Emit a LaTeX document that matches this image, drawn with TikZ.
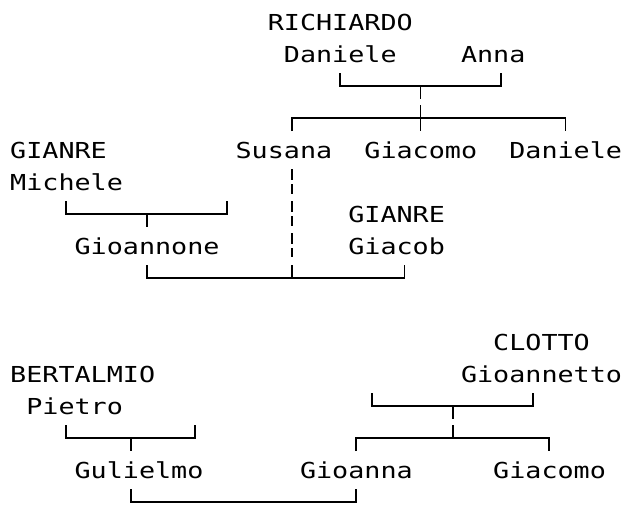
\documentclass[tikz,border=0pt]{standalone}
\usepackage{fontspec}
\newfontfamily\treefont[FakeStretch=1.216]{DejaVu Sans Mono}
\begin{document}
\begin{tikzpicture}[x=1pt,y=-1pt,
  person/.style={anchor=base west,inner sep=0pt,font=\treefont\fontsize{22}{22}\selectfont},
  link/.style={line width=1.8pt,line cap=butt},
  dlink/.style={link,dash pattern=on 11pt off 4pt on 10pt off 7pt}]
\useasboundingbox (0,0) rectangle (623,504);
% ---- people
\node[person] (richiardo) at (267.6,30) {RICHIARDO};
\node[person] (daniele1) at (283.7,62) {Daniele};
\node[person] (anna) at (460.8,62) {Anna};
\node[person] (susana) at (235.4,158) {Susana};
\node[person] (giacomo1) at (364.2,158) {Giacomo};
\node[person] (daniele2) at (509.1,158) {Daniele};
\node[person] (gianre1) at (10,158) {GIANRE};
\node[person] (michele) at (10,190) {Michele};
\node[person] (gianre2) at (348.1,222) {GIANRE};
\node[person] (gioannone) at (74.4,254) {Gioannone};
\node[person] (giacob) at (348.1,254) {Giacob};
\node[person] (clotto) at (493,350) {CLOTTO};
\node[person] (bertalmio) at (10,382) {BERTALMIO};
\node[person] (gioannetto) at (460.8,382) {Gioannetto};
\node[person] (pietro) at (26.1,414) {Pietro};
\node[person] (gulielmo) at (74.4,478) {Gulielmo};
\node[person] (gioanna) at (299.8,478) {Gioanna};
\node[person] (giacomo2) at (493,478) {Giacomo};
% ---- Richiardo couple
\coordinate (rA1) at (340.05,73);  \coordinate (rA2) at (340.05,86);
\coordinate (rB2) at (501.05,86);  \coordinate (rB1) at (501.05,73);
\coordinate (rT1) at (420.55,86);  \coordinate (rT2) at (420.55,99);
\coordinate (rT3) at (420.55,105); \coordinate (rT4) at (420.55,131);
\coordinate (rL1) at (291.75,118); \coordinate (rL2) at (291.75,131);
\coordinate (rR1) at (565.45,118); \coordinate (rR2) at (565.45,131);
\draw[link] (rA1) -- (rA2) -- (rB2) -- (rB1);
\draw[link] (rT1) -- (rT2);
\draw[link] (rT3) -- (rT4);
\draw[link] (rL2) -- (rL1) -- (rR1) -- (rR2);
% ---- Susana down
\coordinate (sD1) at (291.75,169); \coordinate (sD2) at (291.75,257);
\coordinate (sD3) at (291.75,265); \coordinate (sD4) at (291.75,278);
\draw[dlink] (sD1) -- (sD2);
\draw[link] (sD3) -- (sD4);
% ---- Michele bracket
\coordinate (mA1) at (66.35,201);  \coordinate (mA2) at (66.35,214);
\coordinate (mB2) at (227.35,214); \coordinate (mB1) at (227.35,201);
\coordinate (mT1) at (146.85,214); \coordinate (mT2) at (146.85,227);
\draw[link] (mA1) -- (mA2) -- (mB2) -- (mB1);
\draw[link] (mT1) -- (mT2);
% ---- Gioannone + Giacob bottom
\coordinate (gA1) at (146.85,265); \coordinate (gA2) at (146.85,278);
\coordinate (gB2) at (404.45,278); \coordinate (gB1) at (404.45,265);
\draw[link] (gA1) -- (gA2) -- (gB2) -- (gB1);
% ---- Gioannetto bracket
\coordinate (cA1) at (372.25,393); \coordinate (cA2) at (372.25,406);
\coordinate (cB2) at (533.25,406); \coordinate (cB1) at (533.25,393);
\coordinate (cT1) at (452.75,406); \coordinate (cT2) at (452.75,419);
\coordinate (cT3) at (452.75,425); \coordinate (cT4) at (452.75,438);
\coordinate (cL1) at (356.15,438); \coordinate (cL2) at (356.15,451);
\coordinate (cR1) at (549.35,438); \coordinate (cR2) at (549.35,451);
\draw[link] (cA1) -- (cA2) -- (cB2) -- (cB1);
\draw[link] (cT1) -- (cT2);
\draw[link] (cT3) -- (cT4);
\draw[link] (cL2) -- (cL1) -- (cR1) -- (cR2);
% ---- Pietro bracket
\coordinate (pA1) at (66.35,425);  \coordinate (pA2) at (66.35,438);
\coordinate (pB2) at (195.15,438); \coordinate (pB1) at (195.15,425);
\coordinate (pT1) at (130.75,438); \coordinate (pT2) at (130.75,451);
\draw[link] (pA1) -- (pA2) -- (pB2) -- (pB1);
\draw[link] (pT1) -- (pT2);
% ---- Gulielmo + Gioanna
\coordinate (wA1) at (130.75,489); \coordinate (wA2) at (130.75,502);
\coordinate (wB2) at (356.15,502); \coordinate (wB1) at (356.15,489);
\draw[link] (wA1) -- (wA2) -- (wB2) -- (wB1);
\end{tikzpicture}
\end{document}
